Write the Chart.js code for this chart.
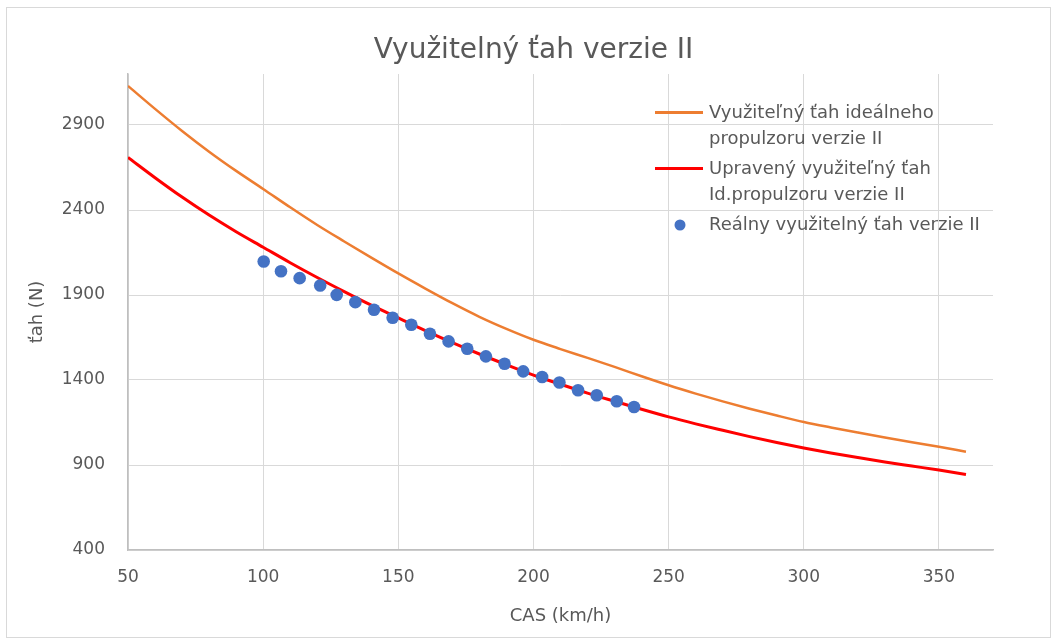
<!DOCTYPE html>
<html>
<head>
<meta charset="utf-8">
<script src="https://cdn.jsdelivr.net/npm/chart.js@4"></script>
<style>
  html, body { margin: 0; padding: 0; background: #fff; }
  canvas { display: block; }
</style>
</head>
<body>
<canvas id="thrustChart" width="1057" height="644"></canvas>
<script>
// speed grid for the computed curves (km/h)
const speed = [50, 60, 70, 80, 90, 100, 110, 120, 130, 140, 150, 160, 170, 180, 190, 200,
               210, 220, 230, 240, 250, 260, 270, 280, 290, 300, 310, 320, 330, 340, 350, 360];
// ideal propeller thrust (N)
const idealThrust = [3130, 2995, 2865, 2743, 2630, 2524, 2416, 2312, 2215, 2120, 2027, 1938, 1852, 1772, 1701, 1637,
                     1582, 1530, 1477, 1422, 1369, 1320, 1274, 1231, 1191, 1153, 1121, 1091, 1062, 1034, 1007, 978];
// adjusted thrust of the ideal propeller (N)
const adjustedThrust = [2709, 2590, 2476, 2370, 2272, 2181, 2090, 2003, 1920, 1840, 1765, 1691, 1620, 1553, 1490, 1429,
                        1375, 1323, 1275, 1228, 1183, 1142, 1104, 1067, 1032, 1000, 971, 944, 918, 894, 870, 844];
// measured thrust
const realSpeed = [100.2, 106.6, 113.5, 121.1, 127.2, 134.1, 141.0, 147.9, 154.8, 161.7, 168.6,
                   175.5, 182.4, 189.3, 196.2, 203.2, 209.6, 216.5, 223.4, 230.8, 237.2];
const realThrust = [2097, 2040, 1999, 1956, 1901, 1858, 1813, 1766, 1725, 1672, 1627,
                    1584, 1539, 1496, 1451, 1418, 1385, 1340, 1310, 1275, 1241];

const xTicks = [50, 100, 150, 200, 250, 300, 350];
const yTicks = [400, 900, 1400, 1900, 2400, 2900];

const chartTitle = 'Využitelný ťah verzie II';
const seriesNames = [
    ['Využiteľný ťah ideálneho', 'propulzoru verzie II'],
    ['Upravený využiteľný ťah', 'Id.propulzoru verzie II'],
    ['Reálny využitelný ťah verzie II']
];

const ORANGE = '#ED7D31';
const RED = '#FF0000';
const BLUE = '#4472C4';
const TEXT = '#595959';
const GRID = '#d9d9d9';
const FONT = "'DejaVu Sans', sans-serif";

function pairs(xs, ys) {
    return xs.map((x, i) => ({ x: x, y: ys[i] }));
}

// outer frame and centred title
const frame = {
    id: 'frame',
    beforeDraw(chart) {
        const c = chart.ctx;
        c.save();
        c.fillStyle = '#fff';
        c.fillRect(0, 0, chart.width, chart.height);
        c.strokeStyle = GRID;
        c.lineWidth = 1;
        c.strokeRect(6.5, 7.5, chart.width - 13, chart.height - 14);
        c.font = '28px ' + FONT;
        c.fillStyle = TEXT;
        c.textAlign = 'center';
        c.textBaseline = 'alphabetic';
        c.fillText(chartTitle, chart.width / 2 + 5, 58);
        c.restore();
    }
};

// legend drawn inside the plot, over the grid
const insideLegend = {
    id: 'insideLegend',
    afterDatasetsDraw(chart) {
        const c = chart.ctx;
        const sx = 655, tx = 709;
        c.save();
        c.font = '18px ' + FONT;
        c.fillStyle = TEXT;
        c.textBaseline = 'alphabetic';

        c.lineWidth = 3;
        c.strokeStyle = ORANGE;
        c.beginPath(); c.moveTo(sx, 112.5); c.lineTo(sx + 48, 112.5); c.stroke();
        c.fillText(seriesNames[0][0], tx, 118);
        c.fillText(seriesNames[0][1], tx, 144);

        c.strokeStyle = RED;
        c.beginPath(); c.moveTo(sx, 168.5); c.lineTo(sx + 48, 168.5); c.stroke();
        c.fillText(seriesNames[1][0], tx, 174);
        c.fillText(seriesNames[1][1], tx, 200);

        c.fillStyle = BLUE;
        c.beginPath(); c.arc(680, 225, 5.5, 0, Math.PI * 2); c.fill();
        c.fillStyle = TEXT;
        c.fillText(seriesNames[2][0], tx, 230);
        c.restore();
    }
};

new Chart(document.getElementById('thrustChart'), {
    type: 'scatter',
    data: {
        datasets: [
            {
                label: seriesNames[2].join(' '),
                data: pairs(realSpeed, realThrust),
                backgroundColor: BLUE,
                borderWidth: 0,
                pointRadius: 6.3,
                order: 0
            },
            {
                label: seriesNames[1].join(' '),
                data: pairs(speed, adjustedThrust),
                showLine: true,
                borderColor: RED,
                borderWidth: 3,
                pointRadius: 0,
                cubicInterpolationMode: 'monotone',
                order: 1
            },
            {
                label: seriesNames[0].join(' '),
                data: pairs(speed, idealThrust),
                showLine: true,
                borderColor: ORANGE,
                borderWidth: 2.5,
                pointRadius: 0,
                cubicInterpolationMode: 'monotone',
                order: 2
            }
        ]
    },
    options: {
        responsive: false,
        animation: false,
        layout: { padding: { left: 27, right: 64, top: 74, bottom: 17 } },
        plugins: {
            legend: { display: false },
            tooltip: { enabled: false },
            title: { display: false }
        },
        scales: {
            x: {
                type: 'linear',
                min: 50,
                max: 370,
                afterBuildTicks: (s) => { s.ticks = xTicks.map(v => ({ value: v })); },
                afterFit: (s) => { s.height = 77; },
                grid: { color: GRID, lineWidth: 1, drawTicks: false },
                border: { color: '#bfbfbf', width: 1.5 },
                ticks: { color: TEXT, font: { family: FONT, size: 17 }, padding: 17, callback: (v) => String(v) },
                title: {
                    display: true,
                    text: 'CAS (km/h)',
                    color: TEXT,
                    font: { family: FONT, size: 18 },
                    padding: 0
                }
            },
            y: {
                type: 'linear',
                min: 400,
                max: 3200,
                afterBuildTicks: (s) => { s.ticks = yTicks.map(v => ({ value: v })); },
                afterFit: (s) => { s.width = 101; },
                grid: { color: GRID, lineWidth: 1, drawTicks: false },
                border: { color: '#bfbfbf', width: 1.5 },
                ticks: { color: TEXT, font: { family: FONT, size: 17 }, padding: 23, callback: (v) => String(v) },
                title: {
                    display: true,
                    text: 'ťah (N)',
                    color: TEXT,
                    font: { family: FONT, size: 18 },
                    padding: 0
                }
            }
        }
    },
    plugins: [frame, insideLegend]
});
</script>
</body>
</html>
